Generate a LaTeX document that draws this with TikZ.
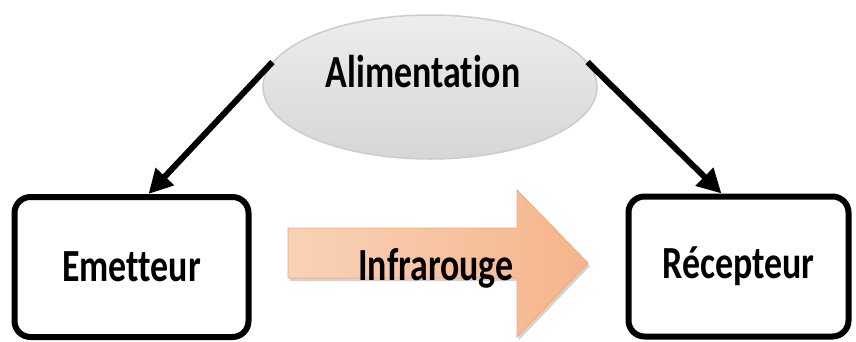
\documentclass[tikz,border=0pt]{standalone}
\usepackage{fontspec}
\setmainfont[Ligatures=NoCommon, FakeStretch=0.78]{Carlito}
\usetikzlibrary{arrows.meta, shapes.geometric}

\definecolor{irlight}{HTML}{F9D2B7}
\definecolor{irdark}{HTML}{F5B58C}
\definecolor{iredge}{HTML}{F2A77B}

\begin{document}
\begin{tikzpicture}[x=1pt, y=-1pt,
    txt/.style={font=\fontsize{46}{50}\selectfont\bfseries},
    box/.style={txt, draw, line width=6pt, rounded corners=16pt, minimum height=140pt},
    link/.style={-{Triangle[length=24pt, width=24pt]}, line width=6pt}]
    \useasboundingbox (0,0) rectangle (856,341);
    % alimentation
    \node[ellipse, draw=gray!40, line width=1.5pt, top color=gray!14, middle color=gray!7,
          bottom color=gray!32, minimum width=334pt, minimum height=144pt] (alim) at (430,87) {};
    \node[txt, anchor=base] (alimtxt) at (423,87) {Alimentation};
    % emetteur et recepteur
    \node[box, minimum width=234pt] (emet) at (131.5,267) {Emetteur};
    \node[box, minimum width=220pt] (recep) at (738.5,266.5) {Récepteur};
    % infrarouge
    \fill[gray!35] (290,231) -- (519,231) -- (519,193) -- (590,266) -- (519,340)
        -- (519,281) -- (290,281) -- cycle;
    \shade[draw=iredge, line width=0.8pt, left color=irlight, right color=irdark]
        (288,228) -- (517,228) -- (517,190) -- (588,263) -- (517,337)
        -- (517,278) -- (288,278) -- cycle;
    \node[txt, anchor=base] (irtxt) at (436,280) {Infrarouge};
    % liaisons
    \draw[link] (alim.171) -- ([xshift=17pt]emet.north);
    \draw[link] (alim.9) -- ([xshift=-17pt]recep.north);
\end{tikzpicture}
\end{document}
